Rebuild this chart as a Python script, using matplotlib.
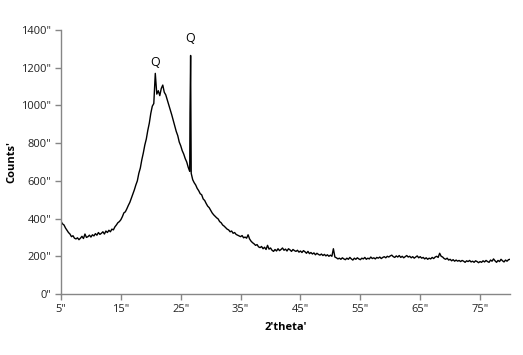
import numpy as np
import matplotlib
matplotlib.use("Agg")
import matplotlib.pyplot as plt

# 2-theta grid (instrument step 0.25 deg) and counts
theta_start, theta_step = 5.0, 0.25
counts_grid = [
    385, 372, 366, 350, 338, 326, 318, 304, 309, 296, 292, 298, 288, 296, 306, 294, 318, 300, 304, 312,
    302, 314, 308, 320, 312, 326, 316, 322, 330, 318, 334, 326, 338, 330, 344, 340, 356, 366, 378, 384,
    394, 410, 430, 436, 452, 470, 486, 508, 530, 552, 578, 600, 640, 668, 712, 748, 790, 822, 868, 906,
    958, 996, 1010, 1170, 1060, 1078, 1052, 1090, 1108, 1070, 1056, 1030, 1004, 978, 950, 920, 890, 862, 840, 806,
    786, 760, 742, 718, 700, 672, 650, 640, 606, 590, 578, 560, 548, 532, 526, 504, 496, 480, 466, 458,
    444, 430, 420, 412, 404, 398, 384, 378, 366, 360, 352, 344, 340, 330, 334, 322, 326, 316, 312, 308,
    304, 310, 298, 302, 296, 314, 292, 280, 272, 266, 258, 262, 250, 246, 252, 240, 248, 236, 258, 238,
    244, 232, 226, 236, 228, 240, 230, 236, 244, 232, 238, 228, 240, 234, 226, 236, 230, 226, 232, 222,
    228, 220, 230, 224, 216, 226, 214, 220, 212, 218, 208, 216, 210, 206, 212, 204, 210, 202, 208, 200,
    206, 200, 240, 196, 192, 186, 190, 184, 192, 186, 182, 190, 184, 194, 186, 180, 190, 184, 192, 186,
    182, 190, 186, 194, 184, 190, 186, 196, 188, 192, 186, 194, 190, 196, 188, 194, 198, 192, 200, 196,
    202, 206, 198, 194, 202, 196, 204, 194, 200, 192, 198, 204, 196, 200, 192, 198, 190, 196, 202, 192,
    198, 190, 194, 186, 192, 184, 190, 186, 194, 188, 196, 200, 194, 216, 200, 196, 188, 184, 190, 180,
    184, 176, 182, 174, 180, 174, 178, 172, 178, 174, 168, 176, 172, 178, 170, 174, 168, 176, 172, 166,
    172, 168, 176, 170, 178, 172, 168, 180, 174, 186, 176, 168, 178, 172, 184, 176, 170, 180, 174, 182,
    184,
]
# sharp quartz reflection points
peak_theta = [26.55, 26.65]
peak_counts = [960, 1265]

labels_text = ["Q", "Q"]
labels_x = [20.8, 26.65]
labels_y = [1230, 1357]

x_ticks = [5, 15, 25, 35, 45, 55, 65, 75]
y_ticks = [0, 200, 400, 600, 800, 1000, 1200, 1400]

grid_theta = theta_start + theta_step * np.arange(len(counts_grid))
theta = np.concatenate([grid_theta, peak_theta])
counts = np.concatenate([counts_grid, peak_counts])
order = np.argsort(theta, kind="stable")
theta, counts = theta[order], counts[order]

plt.rcParams['font.family'] = ['Open Sans', 'DejaVu Sans']

fig = plt.figure(figsize=(5.23, 3.55), dpi=100)
ax = fig.add_axes([61/523, 1-294/355, (510-61)/523, (294-30)/355])
ax.plot(theta, counts, color='black', lw=1.0)

for t, xx, yy in zip(labels_text, labels_x, labels_y):
    ax.text(xx, yy, t, ha='center', va='center', fontsize=9, color='black')

ax.set_xlim(5, 80)
ax.set_ylim(0, 1400)
ax.set_xticks(x_ticks)
ax.set_xticklabels([f'{v}"' for v in x_ticks])
ax.set_yticks(y_ticks)
ax.set_yticklabels([f'{v}"' for v in y_ticks])
ax.tick_params(axis='both', direction='out', length=4, width=1, color='#868686',
               labelsize=8, labelcolor='#222222', pad=3)
for s in ['top', 'right']:
    ax.spines[s].set_visible(False)
for s in ['left', 'bottom']:
    ax.spines[s].set_color('#868686')
    ax.spines[s].set_linewidth(1)

ax.set_xlabel("2'theta'", fontsize=8, fontweight='bold')
ax.set_ylabel("Counts'", fontsize=8, fontweight='bold')
ax.xaxis.set_label_coords(0.5, -(328 - 294) / 264, transform=ax.transAxes)
ax.yaxis.set_label_coords((12 - 61) / 449, 0.5, transform=ax.transAxes)
ax.xaxis.label.set_va('center')
ax.yaxis.label.set_va('center')

fig.savefig('out.png', dpi=100)
